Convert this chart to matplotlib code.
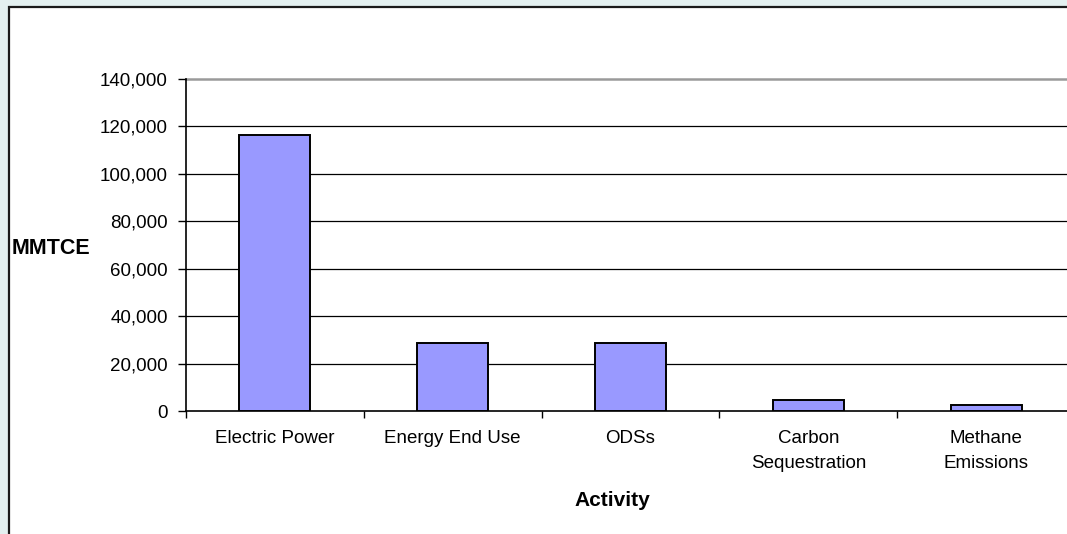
import matplotlib
matplotlib.use("Agg")
import matplotlib.pyplot as plt
from matplotlib.patches import Rectangle
from matplotlib.ticker import FuncFormatter, FixedLocator

categories = ["Electric Power", "Energy End Use", "ODSs", "Carbon\nSequestration", "Methane\nEmissions"]
values = [116500, 28500, 28500, 4500, 2500]
yticks = [0, 20000, 40000, 60000, 80000, 100000, 120000, 140000]

plt.rcParams["font.family"] = ["Liberation Sans", "DejaVu Sans"]

fig = plt.figure(figsize=(10.67, 5.34), dpi=100)
fig.patch.set_facecolor("#E3F0F0")

# white chart panel with dark border (runs past the right and bottom edges)
panel = Rectangle((8.5 / 1067, -0.05), 1.1, 1 - 6.5 / 534 + 0.05,
                  transform=fig.transFigure, facecolor="white",
                  edgecolor="#1a1a1a", linewidth=1.6, zorder=-5)
fig.patches.append(panel)

ax = fig.add_axes([186 / 1067, 123 / 534, 889 / 1067, 332 / 534])
ax.set_zorder(2)
ax.set_facecolor("white")

x = list(range(len(categories)))
ax.bar(x, values, width=0.4, color="#9999FF", edgecolor="black", linewidth=1.4, zorder=3)

ax.set_xlim(-0.5, len(categories) - 0.5)
ax.set_ylim(0, 140000)

for t in yticks[1:-1]:
    ax.axhline(t, color="black", linewidth=0.9, zorder=1)
ax.axhline(yticks[-1], color="#9a9a9a", linewidth=1.8, zorder=1, clip_on=False)

ax.set_yticks(yticks)
ax.yaxis.set_major_formatter(FuncFormatter(lambda v, p: f"{int(v):,}"))
ax.tick_params(axis="y", direction="out", length=6, width=1, pad=7, labelsize=13.5, colors="black")

ax.xaxis.set_major_locator(FixedLocator([i + 0.5 for i in range(-1, len(categories))]))
ax.set_xticklabels([])
ax.tick_params(axis="x", which="major", direction="out", length=5, width=1)
ax.set_xticks(x, minor=True)
ax.set_xticklabels(categories, minor=True, fontsize=13.5, linespacing=1.55)
ax.tick_params(axis="x", which="minor", length=0, pad=14)

for s in ["top", "right"]:
    ax.spines[s].set_visible(False)
ax.spines["left"].set_linewidth(1.2)
ax.spines["bottom"].set_linewidth(1.2)

fig.text(12 / 1067, 1 - 248 / 534, "MMTCE", fontsize=15.5, fontweight="bold", va="center", ha="left")
fig.text(612 / 1067, 1 - 501 / 534, "Activity", fontsize=15, fontweight="bold", va="center", ha="center")

fig.savefig("out.png", dpi=100, facecolor=fig.get_facecolor())
